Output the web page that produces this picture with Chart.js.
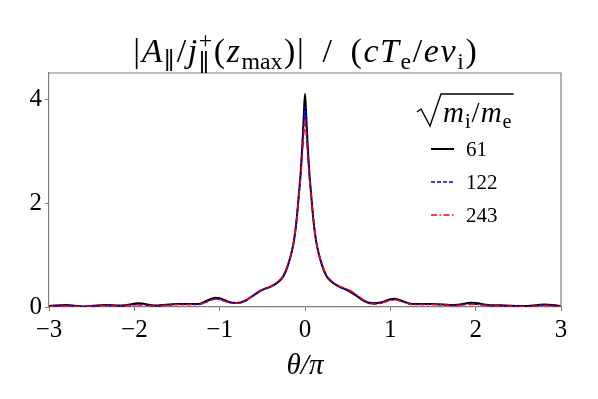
<!DOCTYPE html>
<html>
<head>
<meta charset="utf-8">
<script src="https://cdn.jsdelivr.net/npm/chart.js@4/dist/chart.umd.min.js"></script>
<style>
html, body { margin: 0; padding: 0; background: #fff; }
</style>
</head>
<body>
<canvas id="chart" width="598" height="399"></canvas>
<script>
// theta / pi samples (denser near the peak)
const theta = [-3, -2.8, -2.6, -2.35, -2.15, -1.95, -1.75, -1.5, -1.25, -1.15, -1.05, -1.0, -0.9, -0.8, -0.7, -0.6, -0.5, -0.4, -0.3, -0.25, -0.2, -0.15, -0.125, -0.1, -0.07, -0.05, -0.03, -0.015,
  0,
  0.015, 0.03, 0.05, 0.07, 0.1, 0.125, 0.15, 0.2, 0.25, 0.3, 0.4, 0.5, 0.6, 0.7, 0.8, 0.9, 1.0, 1.05, 1.15, 1.25, 1.5, 1.75, 1.95, 2.15, 2.35, 2.6, 2.8, 3];

const amp61 = [0.02, 0.04, 0.01, 0.04, 0.03, 0.07, 0.03, 0.06, 0.06, 0.12, 0.18, 0.17, 0.10, 0.075, 0.12, 0.23, 0.33, 0.39, 0.5, 0.6, 0.8, 1.1, 1.32, 1.65, 2.2, 2.6, 3.15, 3.65,
  4.1,
  3.65, 3.15, 2.6, 2.2, 1.65, 1.32, 1.1, 0.8, 0.6, 0.5, 0.39, 0.32, 0.22, 0.11, 0.07, 0.09, 0.15, 0.16, 0.11, 0.06, 0.06, 0.04, 0.08, 0.04, 0.03, 0.02, 0.05, 0.02];

const amp122 = [0.01, 0.03, 0.01, 0.03, 0.02, 0.05, 0.02, 0.05, 0.05, 0.10, 0.16, 0.15, 0.09, 0.07, 0.12, 0.23, 0.33, 0.40, 0.51, 0.61, 0.81, 1.1, 1.33, 1.66, 2.2, 2.55, 3.05, 3.45,
  3.85,
  3.45, 3.05, 2.55, 2.2, 1.66, 1.33, 1.1, 0.81, 0.61, 0.51, 0.40, 0.33, 0.23, 0.11, 0.06, 0.08, 0.13, 0.14, 0.10, 0.05, 0.05, 0.03, 0.06, 0.03, 0.02, 0.01, 0.04, 0.01];

const amp243 = [0.01, 0.02, 0.01, 0.03, 0.02, 0.04, 0.02, 0.05, 0.05, 0.10, 0.15, 0.14, 0.09, 0.07, 0.12, 0.24, 0.34, 0.40, 0.52, 0.62, 0.82, 1.1, 1.33, 1.66, 2.18, 2.5, 2.95, 3.3,
  3.6,
  3.3, 2.95, 2.5, 2.18, 1.66, 1.33, 1.1, 0.82, 0.62, 0.52, 0.40, 0.34, 0.24, 0.12, 0.06, 0.08, 0.13, 0.14, 0.10, 0.05, 0.05, 0.03, 0.05, 0.03, 0.02, 0.01, 0.03, 0.01];

const seriesLabels = ['61', '122', '243'];
const xTicks = [-3, -2, -1, 0, 1, 2, 3];
const yTicks = [0, 2, 4];

const serif = '"Liberation Serif", "DejaVu Serif", serif';
const frameColor = '#808080';

// draw a bit of math-like text: [text, kind] with kind r / i / sub / supsub
function richText(ctx, parts, x, y, size, gap, draw) {
  let cx = x;
  parts.forEach(([t, kind]) => {
    if (kind === 'supsub') {
      ctx.font = `${size * 0.7}px ${serif}`;
      const w = Math.max(...t.map(s => ctx.measureText(s).width));
      if (draw) {
        ctx.fillText(t[0], cx, y - size * 0.42);
        ctx.fillText(t[1], cx, y + size * 0.25);
      }
      cx += w + gap;
      return;
    }
    const small = kind === 'sub';
    ctx.font = `${kind === 'i' ? 'italic ' : ''}${small ? size * 0.7 : size}px ${serif}`;
    if (draw) ctx.fillText(t, cx, small ? y + size * 0.2 : y);
    cx += ctx.measureText(t).width + gap;
  });
  return cx - x - gap;
}

const titleParts = [['|', 'r'], ['A', 'i'], ['∥', 'sub'], ['/', 'r'], ['j', 'i'], [['+', '∥'], 'supsub'],
  ['(', 'r'], ['z', 'i'], ['max', 'sub'], [')', 'r'], ['|', 'r'], ['  /  ', 'r'], ['(', 'r'], ['c', 'i'], ['T', 'i'],
  ['e', 'sub'], ['/', 'r'], ['e', 'i'], ['v', 'i'], ['i', 'sub'], [')', 'r']];
const legendTitleParts = [['m', 'i'], ['i', 'sub'], ['/', 'r'], ['m', 'i'], ['e', 'sub']];

const decorations = {
  id: 'decorations',
  afterDraw(chart) {
    const ctx = chart.ctx;
    const a = chart.chartArea;
    ctx.save();
    // top and right frame
    ctx.strokeStyle = frameColor;
    ctx.lineWidth = 1.2;
    ctx.beginPath();
    ctx.moveTo(a.left, a.top);
    ctx.lineTo(a.right, a.top);
    ctx.lineTo(a.right, a.bottom);
    ctx.stroke();

    // title
    ctx.fillStyle = '#000';
    ctx.textBaseline = 'alphabetic';
    ctx.textAlign = 'left';
    const tSize = 34;
    const tw = richText(ctx, titleParts, 0, 0, tSize, 1.6, false);
    richText(ctx, titleParts, (a.left + a.right) / 2 - tw / 2, 62, tSize, 1.6, true);

    // legend title with radical
    const lx = a.right - 144;
    const lb = a.top + 49;
    const lSize = 29;
    const lw = richText(ctx, legendTitleParts, 0, 0, lSize, 1, false);
    const tx = lx + 26;
    richText(ctx, legendTitleParts, tx, lb, lSize, 1, true);
    ctx.strokeStyle = '#000';
    ctx.lineWidth = 1.4;
    ctx.beginPath();
    ctx.moveTo(lx, lb - 10);
    ctx.lineTo(lx + 4, lb - 13);
    ctx.lineTo(lx + 13, lb + 4);
    ctx.lineTo(lx + 24, lb - 28);
    ctx.lineTo(tx + lw + 2, lb - 28);
    ctx.stroke();

    // legend entries
    ctx.font = `21px ${serif}`;
    ctx.textBaseline = 'middle';
    chart.data.datasets.forEach((ds, i) => {
      const ry = a.top + 76 + i * 33;
      ctx.strokeStyle = ds.borderColor;
      ctx.lineWidth = ds.borderWidth;
      ctx.setLineDash(ds.borderDash || []);
      ctx.beginPath();
      ctx.moveTo(a.right - 130, ry);
      ctx.lineTo(a.right - 107, ry);
      ctx.stroke();
      ctx.setLineDash([]);
      ctx.fillStyle = '#000';
      ctx.fillText(ds.label, a.right - 95, ry + 1);
    });
    ctx.restore();
  }
};

const toPoints = vals => theta.map((t, i) => ({ x: t, y: vals[i] }));

new Chart(document.getElementById('chart'), {
  type: 'line',
  data: {
    datasets: [
      { label: seriesLabels[0], data: toPoints(amp61), borderColor: '#000000', borderWidth: 2, order: 3 },
      { label: seriesLabels[1], data: toPoints(amp122), borderColor: '#0000ff', borderWidth: 1.5, borderDash: [4, 2], order: 2 },
      { label: seriesLabels[2], data: toPoints(amp243), borderColor: '#ff0000', borderWidth: 1.5, borderDash: [6, 2.5, 1.5, 2.5], order: 1 }
    ]
  },
  options: {
    responsive: false,
    animation: false,
    layout: { padding: { top: 73, right: 37, left: 0, bottom: 0 } },
    elements: {
      point: { radius: 0 },
      line: { cubicInterpolationMode: 'monotone', fill: false }
    },
    plugins: { legend: { display: false }, tooltip: { enabled: false }, title: { display: false } },
    scales: {
      x: {
        type: 'linear',
        min: -3, max: 3,
        afterFit: s => { s.height = 92; },
        afterBuildTicks: s => { s.ticks = xTicks.map(v => ({ value: v })); },
        grid: { drawOnChartArea: false, drawTicks: true, tickLength: 4, color: frameColor },
        border: { color: frameColor, width: 1.2 },
        ticks: {
          color: '#000', padding: 4,
          font: { family: serif, size: 25 },
          callback: v => v < 0 ? '−' + Math.abs(v) : String(v)
        },
        title: {
          display: true, text: 'θ/π', color: '#000',
          font: { family: serif, size: 29, style: 'italic' },
          padding: { top: 0, bottom: 15 }
        }
      },
      y: {
        min: 0, max: 4.5,
        afterFit: s => { s.width = 49; },
        afterBuildTicks: s => { s.ticks = yTicks.map(v => ({ value: v })); },
        grid: { drawOnChartArea: false, drawTicks: true, tickLength: 4, color: frameColor },
        border: { color: frameColor, width: 1.2 },
        ticks: { color: '#000', padding: 3, font: { family: serif, size: 25 } }
      }
    }
  },
  plugins: [decorations]
});
</script>
</body>
</html>
